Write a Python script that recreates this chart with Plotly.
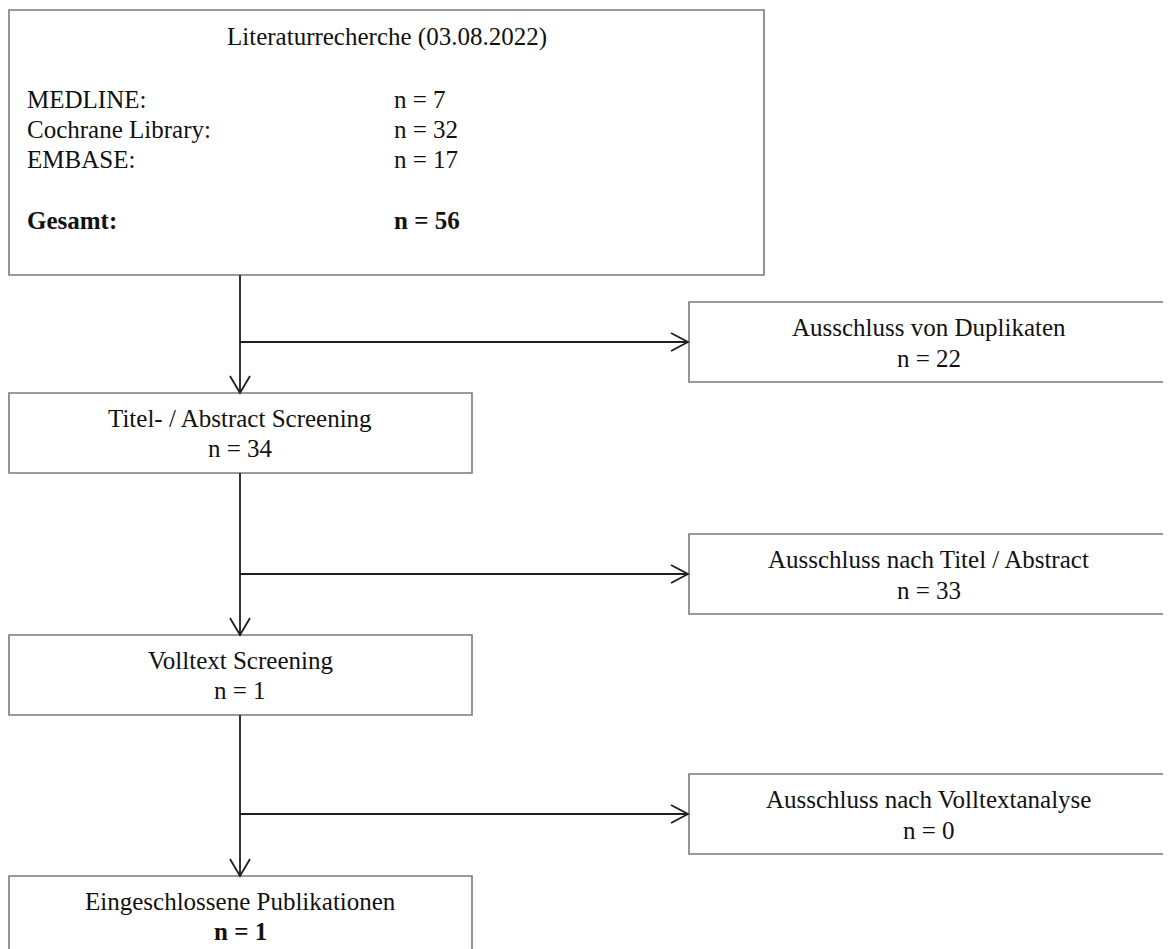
import plotly.graph_objects as go

# ---- data ----
search_title = "Literaturrecherche (03.08.2022)"
source_names = ["MEDLINE:", "Cochrane Library:", "EMBASE:"]
source_counts = [7, 32, 17]
total_label = "Gesamt:"
total_count = 56
stage_labels = ["Titel- / Abstract Screening", "Volltext Screening", "Eingeschlossene Publikationen"]
stage_counts = [34, 1, 1]
excl_labels = ["Ausschluss von Duplikaten", "Ausschluss nach Titel / Abstract", "Ausschluss nach Volltextanalyse"]
excl_counts = [22, 33, 0]

# ---- layout geometry (page pixels) ----
W, H = 1171, 949
PAGE_MARGIN = 8  # default browser body margin
FONT = "Liberation Serif, Times New Roman, serif"
FS = 25
BOX_COLOR = "#7a7a7a"
LINE_COLOR = "#1e1e1e"

top_box = dict(x0=9, y0=10, x1=764, y1=275)
stage_x0, stage_x1 = 9, 472
stage_tops = [393, 635, 876]
box_h = 80
excl_x0, excl_x1 = 689, 1168
excl_mid = [342, 574, 814]
spine_x = 240

fig = go.Figure()
fig.add_trace(go.Scatter(x=[PAGE_MARGIN, W], y=[PAGE_MARGIN, H], mode="markers",
                         marker=dict(opacity=0), hoverinfo="skip", showlegend=False))

shapes = []
annotations = []


def rect(x0, y0, x1, y1):
    shapes.append(dict(type="rect", xref="x", yref="y", x0=x0, y0=y0, x1=x1, y1=y1,
                       line=dict(color=BOX_COLOR, width=1.6), fillcolor="white", layer="below"))


def line(x0, y0, x1, y1):
    shapes.append(dict(type="line", xref="x", yref="y", x0=x0, y0=y0, x1=x1, y1=y1,
                       line=dict(color=LINE_COLOR, width=1.8)))


def chevron_down(x, y):
    shapes.append(dict(type="path", xref="x", yref="y",
                       path=f"M {x-10},{y-17} L {x},{y} L {x+10},{y-17}",
                       line=dict(color=LINE_COLOR, width=1.8)))


def chevron_right(x, y):
    shapes.append(dict(type="path", xref="x", yref="y",
                       path=f"M {x-17},{y-9} L {x},{y} L {x-17},{y+9}",
                       line=dict(color=LINE_COLOR, width=1.8)))


def text(x, baseline, s, anchor="center", bold=False):
    if bold:
        s = f"<b>{s}</b>"
    annotations.append(dict(x=x, y=baseline - 8, xref="x", yref="y", text=s,
                            showarrow=False, xanchor=anchor, yanchor="middle",
                            font=dict(family=FONT, size=FS, color="#111111"),
                            borderpad=0))


# top box
rect(**top_box)
text((top_box["x0"] + top_box["x1"]) / 2, 45, search_title)
for i, (name, cnt) in enumerate(zip(source_names, source_counts)):
    b = 107 + 30 * i
    text(26, b, name, anchor="left")
    text(393, b, f"n = {cnt}", anchor="left")
text(26, 228, total_label, anchor="left", bold=True)
text(393, 228, f"n = {total_count}", anchor="left", bold=True)

# stage boxes
for i, (lab, cnt) in enumerate(zip(stage_labels, stage_counts)):
    t = stage_tops[i]
    rect(stage_x0, t, stage_x1, t + box_h)
    cx = spine_x
    text(cx, t + 33, lab)
    text(cx, t + 63, f"n = {cnt}", bold=(i == len(stage_labels) - 1))

# exclusion boxes
for i, (lab, cnt) in enumerate(zip(excl_labels, excl_counts)):
    m = excl_mid[i]
    t = m - box_h / 2
    rect(excl_x0, t, excl_x1, t + box_h)
    cx = (excl_x0 + excl_x1) / 2
    text(cx, t + 33, lab)
    text(cx, t + 64, f"n = {cnt}")

# connectors
prev_bottoms = [top_box["y1"], stage_tops[0] + box_h, stage_tops[1] + box_h]
for i in range(3):
    y_from = prev_bottoms[i]
    y_to = stage_tops[i]
    line(spine_x, y_from, spine_x, y_to)
    chevron_down(spine_x, y_to)
    line(spine_x, excl_mid[i], excl_x0 - 1, excl_mid[i])
    chevron_right(excl_x0 - 1, excl_mid[i])

fig.update_layout(
    width=W - PAGE_MARGIN, height=H - PAGE_MARGIN,
    margin=dict(l=0, r=0, t=0, b=0),
    paper_bgcolor="white", plot_bgcolor="white",
    shapes=shapes, annotations=annotations,
    xaxis=dict(range=[PAGE_MARGIN, W], visible=False, fixedrange=True),
    yaxis=dict(range=[H, PAGE_MARGIN], visible=False, fixedrange=True),
    showlegend=False,
)

fig.write_html("out.html")
